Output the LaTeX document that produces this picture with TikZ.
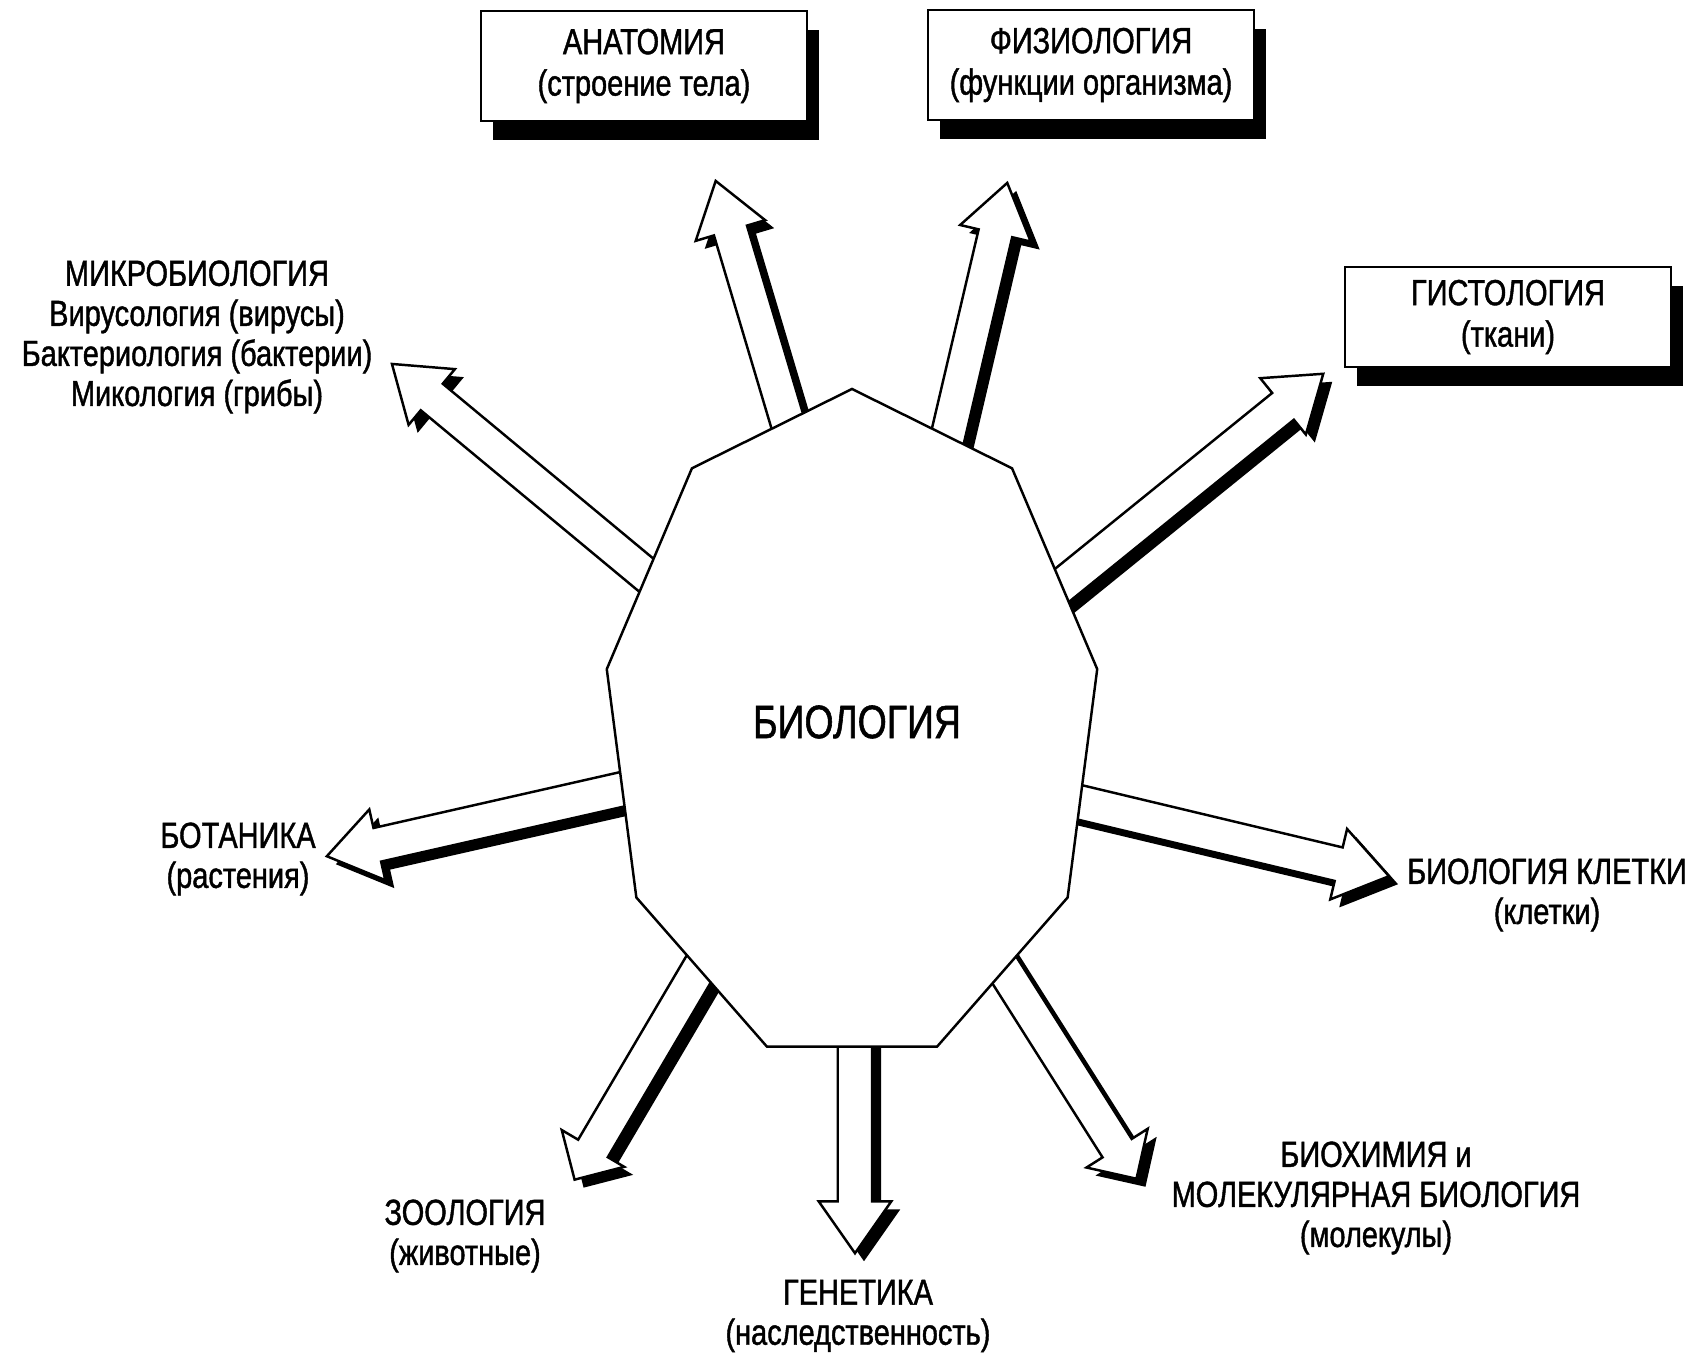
\documentclass[tikz,border=0pt]{standalone}
\usepackage{fontspec}
\setmainfont{Liberation Sans}[FakeStretch=0.8, FakeBold=1.2]
\usetikzlibrary{shapes.arrows,shadows,calc}

\begin{document}
\begin{tikzpicture}
	\tikzstyle{topic} = [align=center, font=\fontsize{10.3}{11.4}\selectfont]
	\tikzstyle{topicbox} = [rectangle, minimum width=3.26cm, minimum height=1.1cm, text centered, draw=black, line width=0.7pt, fill=white, align=center, font=\fontsize{10.3}{11.8}\selectfont, drop shadow={shadow xshift=0.12cm, shadow yshift=-0.19cm, fill=black, opacity=1}]
	\tikzstyle{blockarrow} = [single arrow, draw=black, line width=0.7pt, fill=white, inner xsep=0pt, inner ysep=0.16cm, single arrow head extend=0.19cm, single arrow tip angle=70, pos=0, anchor=tail, sloped, allow upside down, drop shadow={shadow xshift=0.09cm, shadow yshift=-0.08cm, fill=black, opacity=1}]

	\useasboundingbox (-8.52,-6.27) rectangle (8.42,7.28);

	\coordinate (anatomy-tail) at (-0.57,2.81);
	\coordinate (anatomy-tip) at (-1.36,5.46);
	\coordinate (physiology-tail) at (0.90,2.67);
	\coordinate (physiology-tip) at (1.55,5.44);
	\coordinate (histology-tail) at (1.87,1.24);
	\coordinate (histology-tip) at (4.71,3.54);
	\coordinate (microbiology-tail) at (-1.83,1.34);
	\coordinate (microbiology-tip) at (-4.60,3.64);
	\coordinate (botany-tail) at (-2.02,-0.55);
	\coordinate (botany-tip) at (-5.24,-1.28);
	\coordinate (cellbiology-tail) at (2.01,-0.68);
	\coordinate (cellbiology-tip) at (5.36,-1.48);
	\coordinate (zoology-tail) at (-1.35,-2.10);
	\coordinate (zoology-tip) at (-2.77,-4.51);
	\coordinate (genetics-tail) at (0.03,-2.88);
	\coordinate (genetics-tip) at (0.03,-5.24);
	\coordinate (biochemistry-tail) at (1.39,-2.21);
	\coordinate (biochemistry-tip) at (2.84,-4.50);

	\path let \p1=($(anatomy-tip)-(anatomy-tail)$), \n1={veclen(\x1,\y1)} in (anatomy-tail) -- node[blockarrow, minimum height=\n1] {} (anatomy-tip);
	\path let \p1=($(physiology-tip)-(physiology-tail)$), \n1={veclen(\x1,\y1)} in (physiology-tail) -- node[blockarrow, minimum height=\n1] {} (physiology-tip);
	\path let \p1=($(histology-tip)-(histology-tail)$), \n1={veclen(\x1,\y1)} in (histology-tail) -- node[blockarrow, minimum height=\n1] {} (histology-tip);
	\path let \p1=($(microbiology-tip)-(microbiology-tail)$), \n1={veclen(\x1,\y1)} in (microbiology-tail) -- node[blockarrow, minimum height=\n1] {} (microbiology-tip);
	\path let \p1=($(botany-tip)-(botany-tail)$), \n1={veclen(\x1,\y1)} in (botany-tail) -- node[blockarrow, minimum height=\n1] {} (botany-tip);
	\path let \p1=($(cellbiology-tip)-(cellbiology-tail)$), \n1={veclen(\x1,\y1)} in (cellbiology-tail) -- node[blockarrow, minimum height=\n1] {} (cellbiology-tip);
	\path let \p1=($(zoology-tip)-(zoology-tail)$), \n1={veclen(\x1,\y1)} in (zoology-tail) -- node[blockarrow, single arrow tip angle=90, minimum height=\n1] {} (zoology-tip);
	\path let \p1=($(genetics-tip)-(genetics-tail)$), \n1={veclen(\x1,\y1)} in (genetics-tail) -- node[blockarrow, minimum height=\n1] {} (genetics-tip);
	\path let \p1=($(biochemistry-tip)-(biochemistry-tail)$), \n1={veclen(\x1,\y1)} in (biochemistry-tail) -- node[blockarrow, single arrow tip angle=90, minimum height=\n1] {} (biochemistry-tip);

	\draw[line width=0.7pt, fill=white] (90:2.49 and 3.39) -- (50:2.49 and 3.39) -- (10:2.49 and 3.39) -- (-30:2.49 and 3.39) -- (-70:2.49 and 3.39) -- (-110:2.49 and 3.39) -- (-150:2.49 and 3.39) -- (170:2.49 and 3.39) -- (130:2.49 and 3.39) -- cycle;
	\node (bio) [font=\fontsize{13.3}{15}\selectfont, xshift=0.05cm, yshift=0.06cm] {БИОЛОГИЯ};

	\node (anatomy) [topicbox, xshift=-2.08cm, yshift=6.62cm] {АНАТОМИЯ\\(строение тела)};
	\node (physiology) [topicbox, xshift=2.39cm, yshift=6.63cm] {ФИЗИОЛОГИЯ\\(функции организма)};
	\node (histology) [topicbox, minimum height=1cm, xshift=6.56cm, yshift=4.11cm] {ГИСТОЛОГИЯ\\(ткани)};

	\node (microbiology) [topic, xshift=-6.55cm, yshift=3.91cm] {МИКРОБИОЛОГИЯ\\Вирусология (вирусы)\\Бактериология (бактерии)\\Микология (грибы)};
	\node (botany) [topic, xshift=-6.14cm, yshift=-1.31cm] {БОТАНИКА\\(растения)};
	\node (zoology) [topic, xshift=-3.87cm, yshift=-5.08cm] {ЗООЛОГИЯ\\(животные)};
	\node (genetics) [topic, xshift=0.06cm, yshift=-5.88cm] {ГЕНЕТИКА\\(наследственность)};
	\node (biochemistry) [topic, xshift=5.24cm, yshift=-4.70cm] {БИОХИМИЯ и\\МОЛЕКУЛЯРНАЯ БИОЛОГИЯ\\(молекулы)};
	\node (cellbiology) [topic, xshift=6.95cm, yshift=-1.67cm] {БИОЛОГИЯ КЛЕТКИ\\(клетки)};
\end{tikzpicture}
\end{document}
